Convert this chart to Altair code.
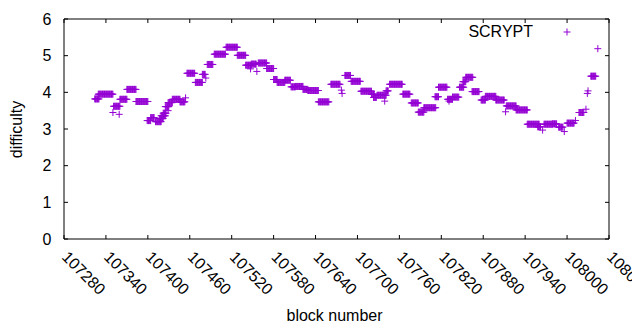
import altair as alt
import pandas as pd

# Constant-difficulty runs: first block, last block, difficulty
seg_start = [107324, 107329, 107350, 107351, 107359, 107360, 107370, 107383, 107399, 107404,
             107411, 107417, 107419, 107422, 107425, 107429, 107429, 107435, 107446, 107454,
             107456, 107468, 107478, 107483, 107485, 107495, 107512, 107528, 107540, 107547,
             107548, 107556, 107558, 107570, 107580, 107585, 107596, 107605, 107611, 107622,
             107629, 107644, 107662, 107677, 107678, 107682, 107691, 107705, 107720, 107723,
             107728, 107739, 107741, 107746, 107765, 107777, 107787, 107795, 107811, 107816,
             107829, 107831, 107836, 107846, 107851, 107855, 107864, 107877, 107883, 107898,
             107912, 107913, 107927, 107943, 107958, 107965, 107967, 107979, 107988, 107996,
             108000, 108012, 108017, 108027, 108029, 108030, 108034, 108044]
seg_end = [107330, 107350, 107350, 107360, 107359, 107370, 107383, 107400, 107404, 107409,
           107419, 107422, 107425, 107426, 107430, 107429, 107435, 107446, 107453, 107454,
           107467, 107478, 107482, 107483, 107493, 107511, 107528, 107540, 107548, 107547,
           107555, 107556, 107570, 107580, 107585, 107596, 107604, 107611, 107622, 107629,
           107644, 107659, 107675, 107677, 107678, 107690, 107704, 107720, 107724, 107727,
           107741, 107739, 107744, 107764, 107775, 107787, 107795, 107812, 107816, 107828,
           107836, 107831, 107845, 107852, 107855, 107865, 107874, 107883, 107898, 107910,
           107912, 107927, 107943, 107960, 107962, 107965, 107979, 107985, 107994, 107996,
           108010, 108012, 108024, 108027, 108029, 108030, 108041, 108044]
seg_value = [3.82, 3.95, 3.45, 3.62, 3.40, 3.81, 4.08, 3.75, 3.23, 3.31,
             3.20, 3.29, 3.36, 3.43, 3.61, 3.50, 3.72, 3.81, 3.74, 3.85,
             4.52, 4.27, 4.49, 4.39, 4.76, 5.04, 5.23, 5.01, 4.74, 4.64,
             4.77, 4.57, 4.80, 4.65, 4.35, 4.27, 4.33, 4.15, 4.16, 4.08,
             4.05, 3.74, 4.22, 4.06, 3.97, 4.46, 4.30, 4.03, 3.95, 3.86,
             3.92, 3.76, 4.04, 4.22, 3.95, 3.71, 3.46, 3.58, 3.88, 4.14,
             3.81, 3.76, 3.87, 4.14, 4.29, 4.41, 4.02, 3.79, 3.89, 3.79,
             3.47, 3.63, 3.52, 3.13, 3.06, 2.97, 3.13, 3.14, 3.05, 2.93,
             3.16, 3.23, 3.45, 3.54, 3.97, 4.04, 4.44, 5.19]

x_ticks = [107280, 107340, 107400, 107460, 107520, 107580, 107640,
           107700, 107760, 107820, 107880, 107940, 108000, 108060]
y_ticks = [0, 1, 2, 3, 4, 5, 6]
series_name = ["SCRYPT"]

rows = []
for s, e, v in zip(seg_start, seg_end, seg_value):
    for b in range(s, e + 1):
        rows.append({"block": b, "difficulty": v})
df = pd.DataFrame(rows)

W, H = 545, 220
PURPLE = "#9400D3"
FONT = "Liberation Sans"
FS = 16
PLUS = "M-1,0L1,0M0,-1L0,1"

xscale = alt.Scale(domain=[x_ticks[0], x_ticks[-1]], nice=False, zero=False)
yscale = alt.Scale(domain=[0, 6], nice=False, zero=False)

x_axis = alt.Axis(
    values=x_ticks, format="d", labelAngle=45, labelAlign="left", labelBaseline="middle",
    labelPadding=15, ticks=False, domain=False, grid=False, labelFlush=False,
    labelOverlap=False, labelFont=FONT, labelFontSize=FS, labelColor="black",
    title="block number", titleFont=FONT, titleFontSize=FS, titleFontWeight="normal",
    titleColor="black", titleX=270, titleY=76, titleAlign="center", titleBaseline="middle")
y_axis = alt.Axis(
    values=y_ticks, format="d", labelPadding=13, ticks=False, domain=False, grid=False,
    labelFont=FONT, labelFontSize=FS, labelColor="black", labelFlush=False,
    title="difficulty", titleFont=FONT, titleFontSize=FS, titleFontWeight="normal",
    titleColor="black", titleX=-48, titleY=110, titleAngle=270, titleAlign="center",
    titleBaseline="middle")

points = alt.Chart(df).mark_point(
    shape=PLUS, size=49, filled=False, strokeWidth=1, color=PURPLE, opacity=1
).encode(
    x=alt.X("block:Q", scale=xscale, axis=x_axis),
    y=alt.Y("difficulty:Q", scale=yscale, axis=y_axis),
)

xt = pd.DataFrame({"block": x_ticks})
yt = pd.DataFrame({"difficulty": y_ticks})
TL = 4
tick_bottom = alt.Chart(xt).mark_rule(color="black", strokeWidth=1).encode(
    x=alt.X("block:Q", scale=xscale, axis=x_axis), y=alt.value(H), y2=alt.value(H - TL))
tick_top = alt.Chart(xt).mark_rule(color="black", strokeWidth=1).encode(
    x=alt.X("block:Q", scale=xscale, axis=x_axis), y=alt.value(0), y2=alt.value(TL))
tick_left = alt.Chart(yt).mark_rule(color="black", strokeWidth=1).encode(
    y=alt.Y("difficulty:Q", scale=yscale, axis=y_axis), x=alt.value(0), x2=alt.value(TL))
tick_right = alt.Chart(yt).mark_rule(color="black", strokeWidth=1).encode(
    y=alt.Y("difficulty:Q", scale=yscale, axis=y_axis), x=alt.value(W), x2=alt.value(W - TL))

leg = pd.DataFrame({"label": series_name})
frame = alt.Chart(leg).mark_rect(fill=None, stroke="black", strokeWidth=1).encode(
    x=alt.value(0), x2=alt.value(W), y=alt.value(0), y2=alt.value(H))
leg_text = alt.Chart(leg).mark_text(
    align="right", baseline="middle", font=FONT, fontSize=FS, color="black"
).encode(x=alt.value(469), y=alt.value(13), text="label:N")
leg_sym = alt.Chart(leg).mark_point(
    shape=PLUS, size=49, filled=False, strokeWidth=1, color=PURPLE, opacity=1
).encode(x=alt.value(503), y=alt.value(13))

chart = alt.layer(
    points, tick_bottom, tick_top, tick_left, tick_right, frame, leg_text, leg_sym
).properties(
    width=W, height=H,
    autosize=alt.AutoSizeParams(type="none"),
    padding={"left": 56, "top": 11, "right": 23, "bottom": 83},
    background="white",
).configure_view(stroke=None)

chart.save("out.html", embed_options={"renderer": "svg", "actions": False})
